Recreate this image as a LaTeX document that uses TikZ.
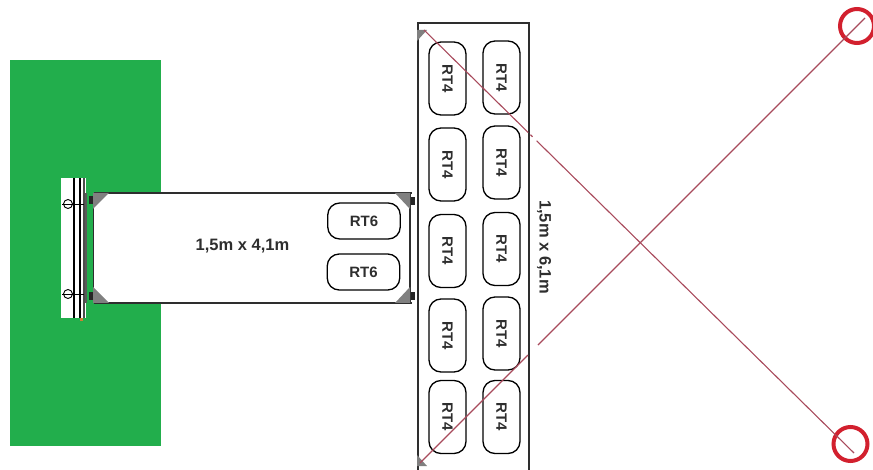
\documentclass[tikz,border=0pt]{standalone}
\usepackage{fontspec}
\setmainfont{Liberation Sans}
\usetikzlibrary{calc}
\definecolor{lawn}{HTML}{22AE4C}
\definecolor{cable}{HTML}{A84A5C}
\definecolor{ring}{HTML}{D2202E}
\definecolor{bracket}{HTML}{808080}
\definecolor{ink}{HTML}{2E2E2E}
\tikzset{
  rtbox/.style={draw=black,line width=1.3pt,rounded corners=12pt,inner sep=0pt,
    font=\fontsize{15}{15}\selectfont\bfseries,text=ink},
  rtsix/.style={rtbox,minimum width=72.5pt,minimum height=36pt},
  rtfour/.style={rtbox,minimum width=73pt,minimum height=37pt,rotate=-90},
  dimtext/.style={inner sep=0pt,font=\fontsize{16.5}{16.5}\selectfont\bfseries,text=ink},
  anchorring/.style={circle,draw=ring,line width=4pt,minimum size=34pt,inner sep=0pt},
  wire/.style={draw=cable,line width=1.1pt},
  plate/.style={fill=black!85,draw=none},
}
\begin{document}
\begin{tikzpicture}[x=1pt,y=-1pt]
  \useasboundingbox(0,0)rectangle(873,470);
  % ground and mast
  \fill[lawn](10,60)rectangle(161,446);
  \fill[white](61,178)rectangle(86,318);
  \draw[line width=1.3pt](74,178)--(74,318) (80,178)--(80,318);
  \draw[line width=1.3pt,black!70](84,178)--(84,318);
  \fill[orange!60!gray](80,318)rectangle(83,321);
  \draw[line width=2pt,black!65](86,193)--(86,303);
  \foreach \Y in{204,294}{
    \draw[line width=0.9pt](68,\Y)circle(4.5);
    \draw[line width=0.9pt](62,\Y)--(84,\Y);
  }
  % short platform
  \fill[white](94,193)rectangle(415,303);
  \draw[line width=1.4pt,ink](94,193)--(412,193) (94,303)--(412,303);
  \draw[line width=1.3pt,ink](93.5,193)--(93.5,303) (410,193)--(410,303);
  \foreach \A/\B/\C in{93/193/109,93/303/109,410/193/395,410/303/395}{
    \fill[bracket](\A,\B)--(\C,\B)--(\A,{\B+(\B<250?16:-16)})--cycle;
  }
  \foreach \X/\Y in{89/196,89/292,411/197,411/292}{
    \fill[plate](\X,\Y)rectangle(\X+4,\Y+8);
  }
  \node[rtsix](sixA)at(364,221){RT6\hspace{4pt}};
  \node[rtsix](sixB)at(363.5,272){RT6\hspace{3pt}};
  \node[dimtext](lenA)at(242.5,246){1,5m x 4,1m};
  % long platform
  \draw[line width=1.3pt,ink](418,470)--(418,23)--(529,23)--(529,470);
  \fill[bracket](417,30)--(427,30)--(417,41)--cycle;
  \fill[bracket](417,455)--(427,466)--(417,466)--cycle;
  \foreach \L/\X/\Y in{A/447.5/78.5,B/447.5/164.5,C/447.5/251,D/447.5/335.5,E/447.5/417,
                       F/501.5/77.5,G/501.5/162.5,H/501.5/249,I/501.5/333.5,J/501.5/417}{
    \node[rtfour](four\L)at(\X,\Y){RT4};
  }
  \node[dimtext,rotate=-90](lenB)at(544,247){1,5m x 6,1m};
  % guy wires
  \node[anchorring](ringA)at(857,26){};
  \node[anchorring](ringB)at(850.5,444){};
  \coordinate(topL)at(424,30);\coordinate(botL)at(420,463);
  \coordinate(topR)at(865,18);\coordinate(botR)at(854,453);
  \draw[wire](topL)--($(topL)!0.2425!(botR)$) ($(topL)!0.2475!(botR)$)--($(topL)!0.2525!(botR)$)
             ($(topL)!0.262!(botR)$)--(botR);
  \draw[wire](botL)--($(botL)!0.2425!(topR)$) ($(botL)!0.265!(topR)$)--(topR);
\end{tikzpicture}
\end{document}
